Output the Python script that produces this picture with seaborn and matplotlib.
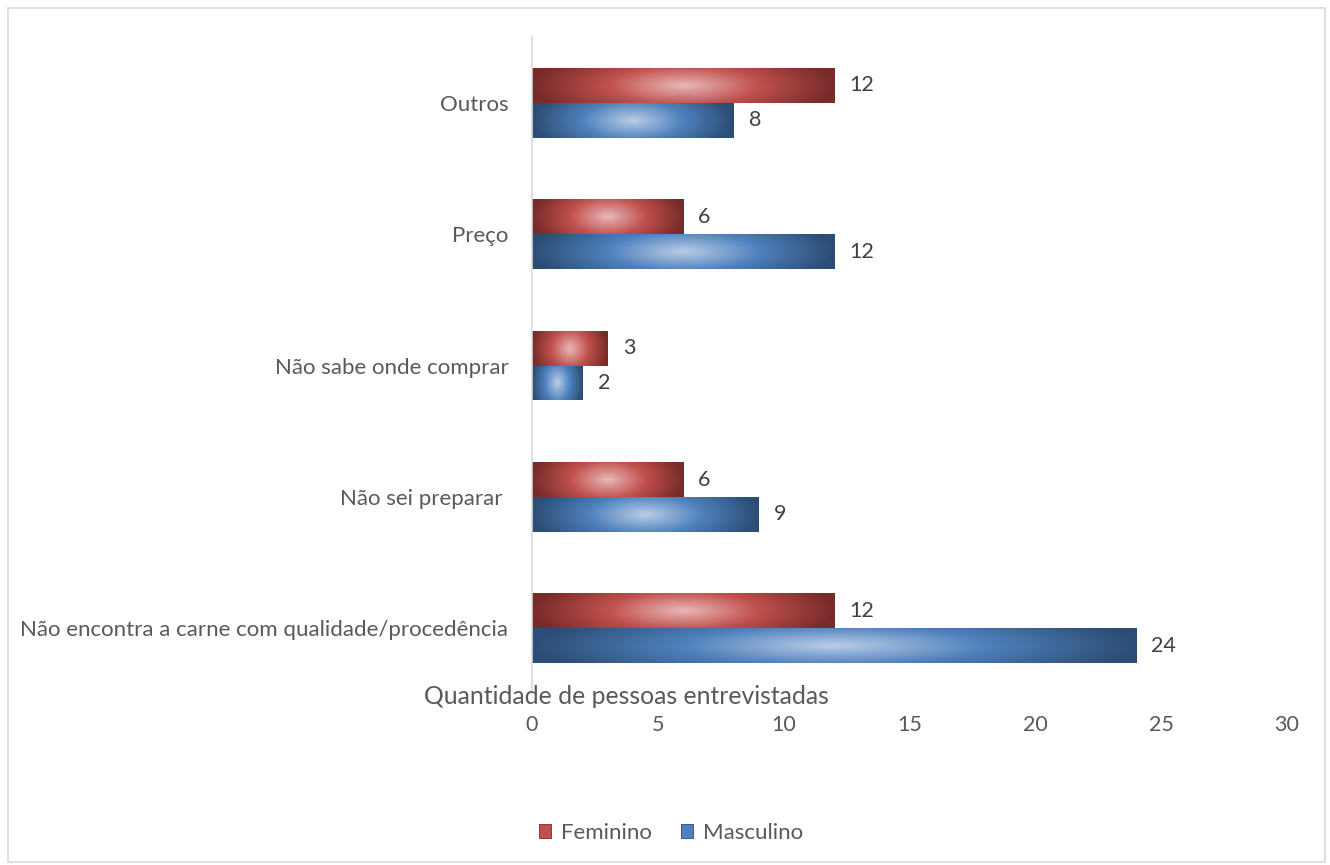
import numpy as np
import pandas as pd
import matplotlib
matplotlib.use("Agg")
import matplotlib.pyplot as plt
import matplotlib.patches as mpatches
from matplotlib.colors import to_rgb
import seaborn as sns

categories = ["Outros", "Preço", "Não sabe onde comprar", "Não sei preparar ",
              "Não encontra a carne com qualidade/procedência"]
feminino = [12, 6, 3, 6, 12]
masculino = [8, 12, 2, 9, 24]
series = ["Feminino", "Masculino"]
x_ticks = [0, 5, 10, 15, 20, 25, 30]

df = pd.DataFrame({
    "cat": categories * 2,
    "val": feminino + masculino,
    "sexo": [series[0]] * len(categories) + [series[1]] * len(categories),
})

base = {"Feminino": "#C0504D", "Masculino": "#4F81BD"}
light = {"Feminino": "#E9B8B7", "Masculino": "#BACDE6"}
dark = {"Feminino": "#772B29", "Masculino": "#2C4D75"}

sns.set_theme(style="white")
plt.rcParams["font.family"] = ["Lato", "DejaVu Sans"]

fig = plt.figure(figsize=(13.3, 8.65), dpi=100)
ax = fig.add_axes([0.4, 0.1977, 0.5677, 0.7593])

sns.barplot(data=df, y="cat", x="val", hue="sexo", orient="h",
            palette=base, width=0.53, ax=ax, legend=False, saturation=1)


def gradient_img(key, nx=240, ny=40):
    u = np.linspace(0, 1, nx)[None, :]
    v = np.linspace(0, 1, ny)[:, None]
    t = np.sqrt(((u - 0.5) * 2) ** 2 + ((v - 0.5) * 2) ** 2 * 0.2)
    t = np.clip(t, 0, 1)
    L, B, D = (np.array(to_rgb(c)) for c in (light[key], base[key], dark[key]))
    s = (t / 0.5)[..., None]
    s2 = ((t - 0.5) / 0.5)[..., None]
    img = np.where((t <= 0.5)[..., None], L * (1 - s) + B * s, B * (1 - s2) + D * s2)
    return img


for container, key in zip(ax.containers, series):
    for patch in container:
        x0, y0 = patch.get_x(), patch.get_y()
        w, h = patch.get_width(), patch.get_height()
        im = ax.imshow(gradient_img(key), extent=[x0, x0 + w, y0 + h, y0],
                       aspect="auto", interpolation="bilinear", zorder=2)
        im.set_clip_path(patch)
    ax.bar_label(container, padding=11, fontsize=15.5, color="#404040")

ax.set_xlim(0, 30)
ax.set_ylim(4.5, -0.5)
ax.set_xticks(x_ticks)
ax.set_xlabel("")
ax.set_ylabel("")
ax.tick_params(axis="x", length=0, pad=15, labelsize=15.5, labelcolor="#595959")
ax.tick_params(axis="y", length=0, pad=17, labelsize=16, labelcolor="#595959")
for side in ["top", "right", "bottom"]:
    ax.spines[side].set_visible(False)
ax.spines["left"].set_color("#D9D9D9")
ax.spines["left"].set_linewidth(1.2)
ax.grid(False)

fig.text(626 / 1330, 1 - 697 / 865, "Quantidade de pessoas entrevistadas",
         ha="center", va="center", fontsize=17.8, color="#595959")

handles = [mpatches.Patch(facecolor=base[s], edgecolor=dark[s], linewidth=0.6, label=s)
           for s in series]
fig.legend(handles=handles, loc="center", bbox_to_anchor=(671 / 1330, 1 - 833 / 865),
           ncol=2, frameon=False, fontsize=16, labelcolor="#595959",
           handlelength=0.55, handleheight=0.55, handletextpad=0.45, columnspacing=1.3)

fig.patches.append(mpatches.Rectangle((8 / 1330, 3 / 865), 1317 / 1330, 854 / 865,
                                      transform=fig.transFigure, fill=False,
                                      edgecolor="#D9D9D9", linewidth=1.2))

fig.savefig("out.png", dpi=100)
